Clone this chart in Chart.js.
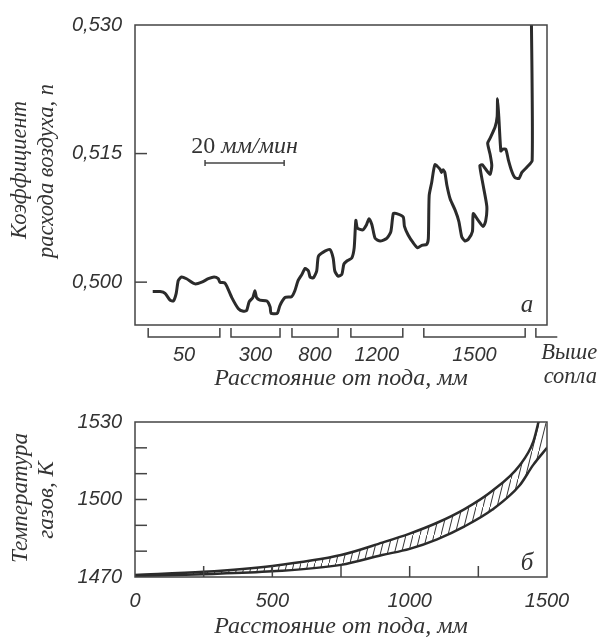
<!DOCTYPE html>
<html>
<head>
<meta charset="utf-8">
<script src="https://cdn.jsdelivr.net/npm/chart.js@4/dist/chart.umd.min.js"></script>
<style>
  html, body { margin: 0; padding: 0; background: #fff; }
  #wrap { position: relative; width: 600px; height: 637px; }
  #airChart { position: absolute; left: 0; top: 0; }
  #tempChart { position: absolute; left: 0; top: 395px; }
</style>
</head>
<body>
<div id="wrap">
  <canvas id="airChart" width="600" height="395"></canvas>
  <canvas id="tempChart" width="600" height="242"></canvas>
</div>
<script>
(function () {
  "use strict";

  // panel a: air excess coefficient along the recording (x = chart position, 0..100)
  const airX = [4.3, 6.1, 7.3, 8.5, 9.3, 10.0, 10.5, 11.3, 12.5, 14.6,
    16.2, 17.8, 19.2, 20.2, 20.6, 21.8, 22.4, 23.5, 25.1, 26.3,
    27.1, 27.7, 28.6, 29.1, 29.5, 30.3, 32.0, 32.8, 33.0, 34.0,
    34.6, 35.2, 36.4, 38.0, 38.8, 39.6, 40.5, 41.3, 42.1, 42.5,
    43.3, 44.1, 44.5, 45.7, 47.3, 48.1, 48.5, 49.3, 50.2, 50.7,
    51.5, 52.6, 53.2, 53.6, 54.0, 55.3, 56.2, 56.8, 57.5, 58.3,
    59.5, 61.1, 62.1, 62.7, 63.5, 65.1, 65.4, 66.3, 67.5, 68.6,
    69.6, 70.8, 71.2, 71.4, 72.0, 72.8, 74.0, 74.4, 74.8, 75.2,
    75.7, 76.5, 77.7, 78.6, 79.3, 80.1, 80.9, 81.9, 82.1, 83.3,
    84.5, 85.1, 85.4, 84.5, 83.7, 84.3, 85.4, 86.2, 86.6, 86.2,
    85.6, 86.2, 87.4, 87.9, 88.0, 88.3, 88.8, 89.2, 90.0, 90.6,
    91.4, 92.2, 93.2, 93.9, 95.1, 96.4, 96.2];
  const airN = [0.4989, 0.4989, 0.4987, 0.4979, 0.4978, 0.4987, 0.5002, 0.5006, 0.5004, 0.4998,
    0.5000, 0.5004, 0.5006, 0.5004, 0.5000, 0.4999, 0.4994, 0.4982, 0.4969, 0.4966,
    0.4967, 0.4977, 0.4982, 0.4990, 0.4982, 0.4979, 0.4978, 0.4971, 0.4964, 0.4963,
    0.4964, 0.4973, 0.4982, 0.4983, 0.4990, 0.5002, 0.5009, 0.5016, 0.5013, 0.5006,
    0.5005, 0.5013, 0.5030, 0.5035, 0.5038, 0.5028, 0.5013, 0.5007, 0.5009, 0.5021,
    0.5025, 0.5028, 0.5040, 0.5072, 0.5063, 0.5061, 0.5067, 0.5074, 0.5067, 0.5051,
    0.5048, 0.5051, 0.5059, 0.5080, 0.5080, 0.5076, 0.5065, 0.5055, 0.5046, 0.5040,
    0.5043, 0.5044, 0.5051, 0.5101, 0.5116, 0.5137, 0.5132, 0.5128, 0.5131, 0.5128,
    0.5113, 0.5097, 0.5084, 0.5071, 0.5053, 0.5048, 0.5050, 0.5059, 0.5080, 0.5072,
    0.5065, 0.5071, 0.5088, 0.5113, 0.5136, 0.5137, 0.5130, 0.5126, 0.5136, 0.5149,
    0.5162, 0.5168, 0.5181, 0.5193, 0.5214, 0.5193, 0.5153, 0.5155, 0.5155, 0.5143,
    0.5130, 0.5122, 0.5121, 0.5128, 0.5134, 0.5142, 0.5315];
  const airTicks = [0.500, 0.515, 0.530];

  // height sections under panel a
  const sectionLabels = ["50", "300", "800", "1200", "1500", "Выше сопла"];
  const sectionFrom = [3.2, 23.3, 38.1, 52.4, 70.1, 97.3];
  const sectionTo = [20.6, 35.2, 49.3, 65.0, 94.7, 102.5];

  // recorder speed bar
  const speedBarX = [17.0, 36.2];
  const speedBarN = 0.5139;

  // panel б: gas temperature band
  const tempUpperX = [0, 250, 500, 750, 900, 1000, 1100, 1200, 1300, 1400, 1450, 1470, 1490, 1500];
  const tempUpper = [1470.8, 1472.0, 1474.3, 1478.5, 1483.3, 1486.8, 1491.0, 1496.3, 1503.3, 1513.2, 1522.4, 1530.5, 1541, 1550];
  const tempLowerX = [0, 250, 500, 750, 900, 1000, 1100, 1200, 1300, 1400, 1450, 1500];
  const tempLower = [1470.4, 1471.1, 1472.2, 1474.7, 1478.5, 1480.9, 1484.6, 1489.6, 1496.0, 1505.4, 1513.4, 1520.0];
  const tempXTicks = [0, 500, 1000, 1500];
  const tempXMarks = [250, 500, 750, 1000, 1250];
  const tempYTicks = [1470, 1500, 1530];
  const tempYMarks = [1480, 1490, 1500, 1510, 1520];

  const ink = "#2b2b2b";
  const textInk = "#333";
  const sans = "'Liberation Sans', Arial, sans-serif";
  const serif = "'Liberation Serif', 'Times New Roman', serif";

  const text = (ctx, s, x, y, font, align, rot) => {
    ctx.save();
    ctx.translate(x, y);
    if (rot) ctx.rotate(rot);
    ctx.font = font;
    ctx.fillStyle = textInk;
    ctx.textAlign = align || "center";
    ctx.textBaseline = "middle";
    ctx.fillText(s, 0, 0);
    ctx.restore();
  };

  const line = (ctx, pts, width) => {
    ctx.beginPath();
    ctx.moveTo(pts[0], pts[1]);
    for (let i = 2; i < pts.length; i += 2) ctx.lineTo(pts[i], pts[i + 1]);
    ctx.lineWidth = width || 1.5;
    ctx.strokeStyle = "#444";
    ctx.stroke();
  };

  const frame = (ctx, a) => {
    ctx.save();
    ctx.strokeStyle = "#444";
    ctx.lineWidth = 1.5;
    ctx.strokeRect(a.left, a.top, a.right - a.left, a.bottom - a.top);
    ctx.restore();
  };

  const airDecor = {
    id: "airDecor",
    afterDraw(chart) {
      const { ctx, chartArea: a, scales: { x, y } } = chart;
      frame(ctx, a);
      airTicks.slice(0, 2).forEach((v) => {
        const py = y.getPixelForValue(v);
        line(ctx, [a.left, py, a.left + 12, py]);
      });

      // bracket sections
      const by = a.bottom + 12;
      sectionLabels.forEach((lab, i) => {
        const x0 = x.getPixelForValue(sectionFrom[i]);
        const x1 = x.getPixelForValue(sectionTo[i]);
        const last = i === sectionLabels.length - 1;
        if (last) {
          line(ctx, [x0, by - 9, x0, by, x1, by]);
          const parts = lab.split(" ");
          text(ctx, parts[0], x1 + 12, by + 16, "italic 22.5px " + serif);
          text(ctx, parts[1], x1 + 13, by + 40, "italic 22.5px " + serif);
        } else {
          line(ctx, [x0, by - 9, x0, by, x1, by, x1, by - 9]);
          text(ctx, lab, (x0 + x1) / 2, by + 18, "italic 20px " + sans);
        }
      });

      // speed bar caption
      const cx = (x.getPixelForValue(speedBarX[0]) + x.getPixelForValue(speedBarX[1])) / 2;
      const cy = y.getPixelForValue(speedBarN) - 16;
      ctx.save();
      ctx.font = "24px " + serif;
      const w1 = ctx.measureText("20 ").width;
      ctx.font = "italic 24px " + serif;
      const w2 = ctx.measureText("мм/мин").width;
      ctx.restore();
      const sx = cx - (w1 + w2) / 2;
      text(ctx, "20 ", sx, cy, "24px " + serif, "left");
      text(ctx, "мм/мин", sx + w1, cy, "italic 24px " + serif, "left");

      text(ctx, "а", a.right - 20, a.bottom - 20, "italic 25px " + serif);
      text(ctx, "Расстояние от пода, мм", 341, 379, "italic 24px " + serif);
      text(ctx, "Коэффициент", 20, 170, "italic 22.5px " + serif, "center", -Math.PI / 2);
      text(ctx, "расхода воздуха, n", 47, 171, "italic 22.5px " + serif, "center", -Math.PI / 2);
    }
  };

  const tempDecor = {
    id: "tempDecor",
    afterDraw(chart) {
      const { ctx, chartArea: a, scales: { x, y } } = chart;
      frame(ctx, a);
      tempYMarks.forEach((v) => {
        const py = y.getPixelForValue(v);
        line(ctx, [a.left, py, a.left + 12, py]);
      });
      tempXMarks.forEach((v) => {
        const px = x.getPixelForValue(v);
        line(ctx, [px, a.bottom, px, a.bottom - 11]);
      });
      text(ctx, "б", a.right - 20, a.bottom - 14, "italic 25px " + serif);
      text(ctx, "Расстояние от пода, мм", 341, 232, "italic 24px " + serif);
      text(ctx, "Температура", 21, 103, "italic 23px " + serif, "center", -Math.PI / 2);
      text(ctx, "газов, К", 47, 105, "italic 23px " + serif, "center", -Math.PI / 2);
    }
  };

  const tickFont = { family: sans, style: "italic", size: 20 };

  new Chart(document.getElementById("airChart"), {
    type: "scatter",
    data: {
      datasets: [{
        data: airX.map((v, i) => ({ x: v, y: airN[i] })),
        showLine: true,
        borderColor: ink,
        borderWidth: 3,
        tension: 0.2,
        pointRadius: 0
      }, {
        data: speedBarX.map((v) => ({ x: v, y: speedBarN })),
        showLine: true,
        borderColor: "#444",
        borderWidth: 1.5,
        pointStyle: "line",
        rotation: 90,
        pointRadius: 3,
        pointBorderWidth: 1.5,
        pointBorderColor: "#444"
      }]
    },
    options: {
      responsive: false,
      animation: false,
      layout: { padding: { left: 0, top: 20, right: 53, bottom: 70 } },
      plugins: { legend: { display: false }, tooltip: { enabled: false } },
      scales: {
        x: { type: "linear", min: 0, max: 100, display: false },
        y: {
          min: 0.495,
          max: 0.530,
          afterFit: (s) => { s.width = 135; },
          afterBuildTicks: (s) => { s.ticks = airTicks.map((v) => ({ value: v })); },
          grid: { display: false, drawTicks: false },
          border: { display: false },
          ticks: {
            padding: 13,
            color: textInk,
            font: tickFont,
            callback: (v) => Number(v).toFixed(3).replace(".", ",")
          }
        }
      }
    },
    plugins: [airDecor]
  });

  const tempCanvas = document.getElementById("tempChart");
  const tile = document.createElement("canvas");
  tile.width = 7;
  tile.height = 28;
  const tg = tile.getContext("2d");
  tg.strokeStyle = "#333";
  tg.lineWidth = 1;
  tg.beginPath();
  tg.moveTo(-7, 56);
  tg.lineTo(14, -28);
  tg.stroke();
  const hatch = tempCanvas.getContext("2d").createPattern(tile, "repeat");

  new Chart(tempCanvas, {
    type: "scatter",
    data: {
      datasets: [{
        data: tempUpperX.map((v, i) => ({ x: v, y: tempUpper[i] })),
        showLine: true,
        borderColor: ink,
        borderWidth: 2.5,
        cubicInterpolationMode: "monotone",
        pointRadius: 0,
        fill: false
      }, {
        data: tempLowerX.map((v, i) => ({ x: v, y: tempLower[i] })),
        showLine: true,
        borderColor: ink,
        borderWidth: 2.5,
        cubicInterpolationMode: "monotone",
        pointRadius: 0,
        fill: { target: 0 },
        backgroundColor: hatch
      }]
    },
    options: {
      responsive: false,
      animation: false,
      layout: { padding: { left: 0, top: 27, right: 53, bottom: 0 } },
      plugins: { legend: { display: false }, tooltip: { enabled: false } },
      scales: {
        x: {
          type: "linear",
          min: 0,
          max: 1500,
          afterFit: (s) => { s.height = 60; },
          afterBuildTicks: (s) => { s.ticks = tempXTicks.map((v) => ({ value: v })); },
          grid: { display: false, drawTicks: false },
          border: { display: false },
          ticks: { padding: 12, color: textInk, font: tickFont, maxRotation: 0, callback: (v) => String(v) }
        },
        y: {
          min: 1470,
          max: 1530,
          afterFit: (s) => { s.width = 135; },
          afterBuildTicks: (s) => { s.ticks = tempYTicks.map((v) => ({ value: v })); },
          grid: { display: false, drawTicks: false },
          border: { display: false },
          ticks: { padding: 13, color: textInk, font: tickFont, callback: (v) => String(v) }
        }
      }
    },
    plugins: [tempDecor]
  });
})();
</script>
</body>
</html>
